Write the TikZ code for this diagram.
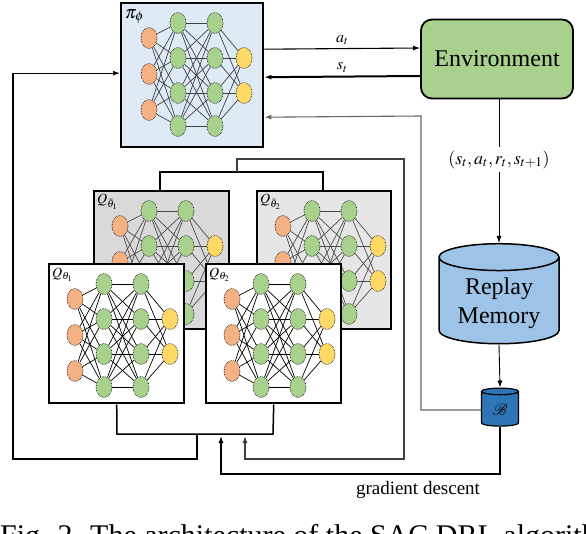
\documentclass[tikz,border=0pt]{standalone}
\usepackage{mathptmx}
\usepackage{fontspec}
\setmainfont{Liberation Serif}
\usetikzlibrary{shapes.geometric,arrows.meta}

\definecolor{piblue}{HTML}{DEEBF7}
\definecolor{envgreen}{HTML}{A9D18E}
\definecolor{replayblue}{HTML}{9DC3E6}
\definecolor{batchblue}{HTML}{2E75B6}
\definecolor{targgray}{HTML}{D9D9D9}
\definecolor{targlight}{HTML}{E7E6E6}
\definecolor{inorange}{HTML}{F4B183}
\definecolor{hidgreen}{HTML}{A9D18E}
\definecolor{outyellow}{HTML}{FFD966}

% one small fully connected net, placed from the box's top left corner
\newcommand\mlpnet[2]{%
  \foreach \ia/\yy in {1/36,2/72,3/108}
    \node[neuron,fill=inorange] (#1-in\ia) at (27,\yy) {};
  \foreach \ia/\yy in {1/21,2/56,3/91,4/124} {
    \node[neuron,fill=hidgreen] (#1-ha\ia) at (56,\yy) {};
    \node[neuron,fill=hidgreen] (#1-hb\ia) at (93,\yy) {};
  }
  \foreach \ia/\yy in {1/56,2/91}
    \node[neuron,fill=outyellow] (#1-out\ia) at (122,\yy) {};
  \foreach \ia in {1,2,3} \foreach \ib in {1,...,4}
    \draw[synapse,#2] (#1-in\ia) -- (#1-ha\ib);
  \foreach \ia in {1,...,4} \foreach \ib in {1,...,4}
    \draw[synapse,#2] (#1-ha\ia) -- (#1-hb\ib);
  \foreach \ia in {1,...,4} \foreach \ib in {1,2}
    \draw[synapse,#2] (#1-hb\ia) -- (#1-out\ib);
}

\begin{document}
\begin{tikzpicture}[x=1pt,y=-1pt,
  neuron/.style={ellipse,draw,densely dotted,line width=.6pt,inner sep=0pt,
    minimum width=16pt,minimum height=21pt},
  synapse/.style={line width=.7pt},
  netbox/.style={draw,line width=2.4pt,anchor=north west,inner sep=0pt},
  boxlabel/.style={inner sep=0pt,anchor=north west,font=\fontsize{14}{16}\selectfont},
  conn/.style={line width=1.1pt},
  arr/.style={conn,-{Latex[length=7pt,width=5pt]}},
  bigtext/.style={font=\fontsize{24}{29}\selectfont},
  mathlabel/.style={font=\fontsize{16}{18}\selectfont}]
\useasboundingbox (0,0) rectangle (586,534);

% actor
\node[netbox,fill=piblue,minimum width=142pt,minimum height=144pt] (pi-box) at (120,2) {};
\begin{scope}[shift={(122,2)}]
  \mlpnet{pi}{black!75}
\end{scope}
\node[boxlabel,font=\fontsize{18}{20}\selectfont] (pi-label) at ([xshift=5pt,yshift=-7pt]pi-box.north west) {$\pi_\phi$};

% target critics
\node[netbox,fill=targgray,minimum width=135pt,minimum height=138pt] (q-targ1) at (93,190) {};
\begin{scope}[shift={(93,190)}]
  \mlpnet{qt1}{black!70}
\end{scope}
\node[boxlabel] (qt1-label) at ([xshift=4pt,yshift=-4pt]q-targ1.north west) {$Q_{\bar\theta_1}$};
\node[netbox,fill=targlight,minimum width=134pt,minimum height=138pt] (q-targ2) at (256,190) {};
\begin{scope}[shift={(256,190)}]
  \mlpnet{qt2}{black!70}
\end{scope}
\node[boxlabel] (qt2-label) at ([xshift=4pt,yshift=-4pt]q-targ2.north west) {$Q_{\bar\theta_2}$};

% critics
\node[netbox,fill=white,minimum width=135pt,minimum height=139pt] (q-theta1) at (48,263) {};
\begin{scope}[shift={(48,263)}]
  \mlpnet{q1}{black}
\end{scope}
\node[boxlabel] (q1-label) at ([xshift=4pt,yshift=-5pt]q-theta1.north west) {$Q_{\theta_1}$};
\node[netbox,fill=white,minimum width=135pt,minimum height=139pt] (q-theta2) at (205,263) {};
\begin{scope}[shift={(205,263)}]
  \mlpnet{q2}{black}
\end{scope}
\node[boxlabel] (q2-label) at ([xshift=4pt,yshift=-5pt]q-theta2.north west) {$Q_{\theta_2}$};

% environment and memory
\node[draw,rounded corners=11pt,line width=1.8pt,fill=envgreen,minimum width=152pt,
  minimum height=79pt,bigtext] (env) at (497,59) {Environment};
\node[cylinder,shape border rotate=90,draw,line width=1.5pt,fill=replayblue,aspect=.3,
  minimum width=120pt,minimum height=100pt,align=center,bigtext] (replay) at (499,303) {Replay\\Memory};
\node[cylinder,shape border rotate=90,draw,line width=1.2pt,fill=batchblue,aspect=.3,
  minimum width=37pt,minimum height=38pt,font=\fontsize{16}{18}\selectfont] (batch) at (500,410) {$\mathcal{B}$};

\draw[arr] ([yshift=26pt]pi-box.east) -- ([yshift=11pt]env.west)
  node[midway,above,mathlabel] (a-label) {$a_t$};
\draw[arr,line width=2pt] ([yshift=-17pt]env.west) -- ([yshift=-2pt]pi-box.east)
  node[midway,above,mathlabel] (s-label) {$s_t$};
\draw[arr,line width=.9pt] (env.south -| replay.north) -- (replay.north)
  node[pos=.42,fill=white,font=\fontsize{18}{20}\selectfont] (tuple-label) {$(s_t, a_t, r_t, s_{t+1})$};
\draw[arr,line width=.9pt] (replay.south) -- (batch.north);

% sampled batch back to the actor
\coordinate (b-up) at (421,116);
\draw[arr,black!60] (batch.west) -| (b-up) -- ([yshift=-42pt]pi-box.east);

% brackets
\coordinate (qb-l) at (117,434);
\coordinate (qb-r) at (273,434);
\coordinate (q-joint) at (197,434);
\coordinate (loop-a) at (13,459);
\draw[conn,line width=1.5pt] (q-theta1.south) -- (qb-l) -- (qb-r) -- (q-theta2.south);
\draw[arr] (q-joint) |- (loop-a) |- ([yshift=2pt]pi-box.west);

\coordinate (tb-l) at (160,172);
\coordinate (tb-r) at (323,172);
\coordinate (t-joint) at (237,172);
\coordinate (t-up) at (404,159);
\coordinate (t-back) at (245,459);
\coordinate (t-tip) at (245,436);
\draw[conn] (q-targ1.north -| tb-l) -- (tb-l) -- (tb-r) -- (q-targ2.north -| tb-r);
\draw[arr,black!75] (t-joint) |- (t-up) |- (t-back) -- (t-tip);

% gradient descent
\coordinate (gd-turn) at (221,474);
\coordinate (gd-tip) at (221,436);
\draw[arr] (batch.south) |- (gd-turn) -- (gd-tip);
\node[font=\fontsize{19}{22}\selectfont] (gd-label) at (418,490) {gradient descent};

\node[anchor=base west,inner sep=0pt,font=\fontsize{30}{34}\selectfont] (caption) at (0,545)
  {Fig. 2. The architecture of the SAC DRL algorithm};
\end{tikzpicture}
\end{document}
